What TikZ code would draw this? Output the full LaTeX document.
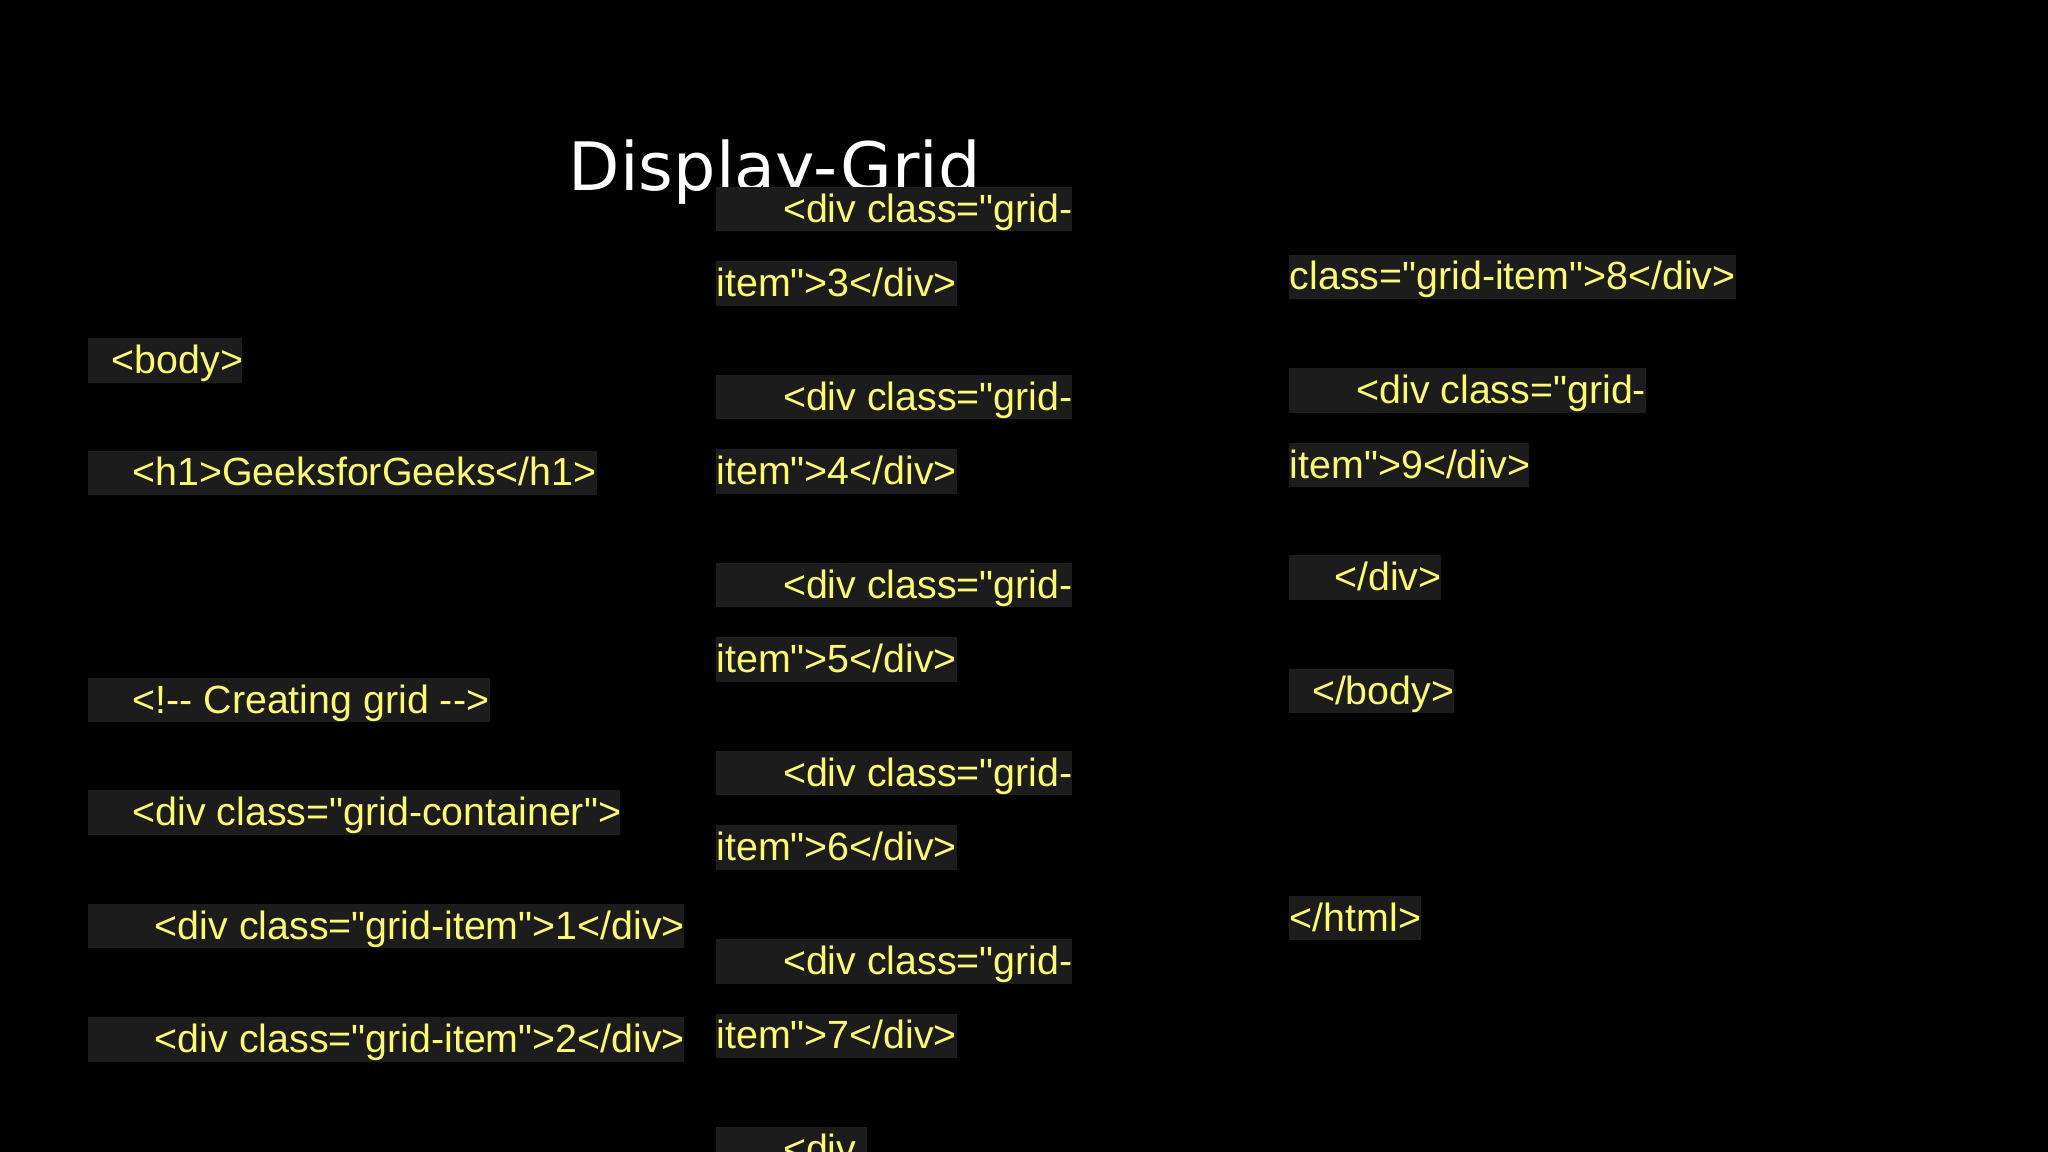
\documentclass[tikz,border=0pt]{standalone}
\usepackage{fontspec}
\setmainfont{Liberation Sans}[Ligatures=TeXOff]
\newfontfamily\titlefont{DejaVu Sans}
\newcommand{\q}{\char"22\relax}
\definecolor{codeyellow}{RGB}{250,250,115}
\definecolor{codebg}{RGB}{28,28,28}
\tikzset{codetext/.style={anchor=base west,inner sep=0pt,text=codeyellow,font=\fontsize{11.2pt}{13pt}\selectfont}}
\newcommand{\cbox}[6]{%
  \fill[codebg] (#2,#4) rectangle (#3,#4+34);
  \node[codetext] (#1) at (#5,#4+27) {#6};}
\begin{document}
\begin{tikzpicture}[x=0.01306cm,y=-0.01306cm]
\fill[black] (0,0) rectangle (1568,882);
\useasboundingbox (0,0) rectangle (1568,882);
\node[anchor=base west,inner sep=0pt,text=white,font=\titlefont\fontsize{19pt}{21pt}\selectfont] (title) at (435,146) {Display-Grid};
% column 1
\cbox{body}{67}{185}{259}{85}{<body>}
\cbox{h1}{67}{457}{345}{101}{<h1>GeeksforGeeks</h1>}
\cbox{cmt}{67}{375}{519}{101}{<!-{}- Creating grid -{}->}
\cbox{cont}{67}{475}{605}{101}{<div class=\q grid-container\q>}
\cbox{i1}{67}{524}{692}{118}{<div class=\q grid-item\q>1</div>}
\cbox{i2}{67}{524}{779}{118}{<div class=\q grid-item\q>2</div>}
% column 2
\cbox{a3}{548}{821}{143}{599}{<div class=\q grid-}
\cbox{b3}{548}{733}{200}{548}{item\q>3</div>}
\cbox{a4}{548}{821}{287}{599}{<div class=\q grid-}
\cbox{b4}{548}{733}{344}{548}{item\q>4</div>}
\cbox{a5}{548}{821}{431}{599}{<div class=\q grid-}
\cbox{b5}{548}{733}{488}{548}{item\q>5</div>}
\cbox{a6}{548}{821}{575}{599}{<div class=\q grid-}
\cbox{b6}{548}{733}{632}{548}{item\q>6</div>}
\cbox{a7}{548}{821}{719}{599}{<div class=\q grid-}
\cbox{b7}{548}{733}{776}{548}{item\q>7</div>}
\cbox{a8}{548}{664}{863}{599}{<div}
% column 3
\cbox{b8}{987}{1329}{195}{987}{class=\q grid-item\q>8</div>}
\cbox{a9}{987}{1260}{282}{1038}{<div class=\q grid-}
\cbox{b9}{987}{1171}{339}{987}{item\q>9</div>}
\cbox{cdiv}{987}{1103}{425}{1021}{</div>}
\cbox{cbody}{987}{1113}{512}{1004}{</body>}
\cbox{chtml}{987}{1088}{686}{987}{</html>}
\end{tikzpicture}
\end{document}
